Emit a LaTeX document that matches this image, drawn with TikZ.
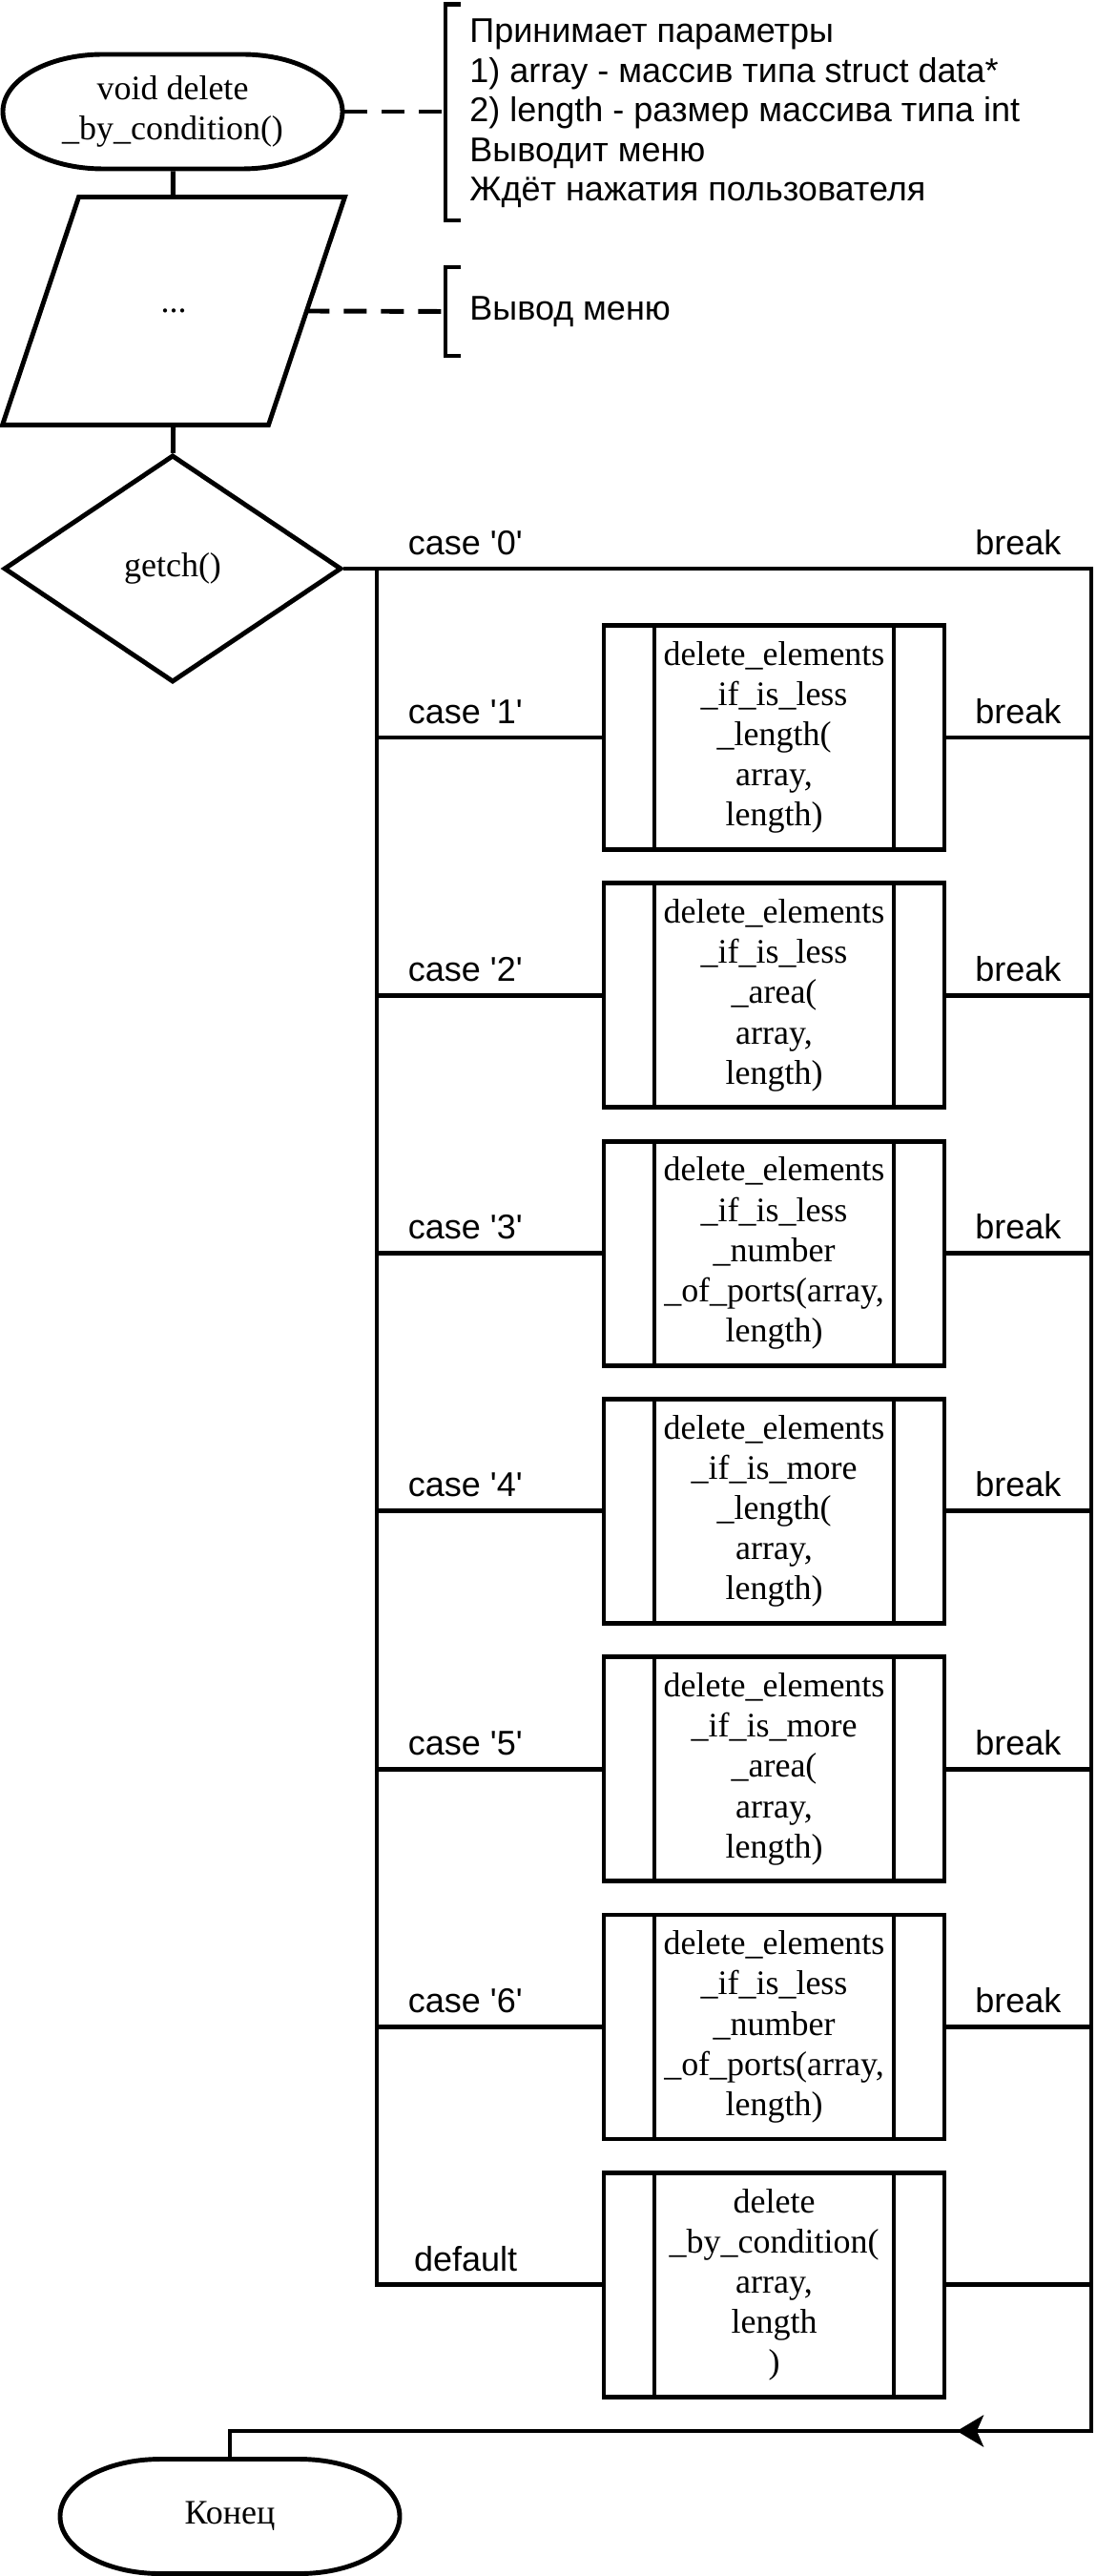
\documentclass[tikz,border=0pt]{standalone}
\usepackage{fontspec}
\setmainfont{Liberation Serif}
\setsansfont{Liberation Sans}
\usetikzlibrary{shapes.geometric,arrows.meta}

% outline of a terminator (flat top, elliptic ends)
\newcommand\termline[1]{%
  \draw (#1.center) ++(-0.73,0.6) -- ++(1.46,0)
    arc[start angle=90,delta angle=-180,x radius=1.05,y radius=0.6]
    -- ++(-1.46,0)
    arc[start angle=270,delta angle=-180,x radius=1.05,y radius=0.6] -- cycle;}

\begin{document}
\begin{tikzpicture}[
   x=1cm,y=1cm,
   line width=1.4pt,
   every node/.style={font=\fontsize{10.24}{12}\selectfont},
   term/.style={minimum width=3.56cm,minimum height=1.2cm,inner sep=0pt,align=center},
   io/.style={minimum width=3.54cm,minimum height=2.34cm,inner sep=0pt},
   choice/.style={draw,diamond,minimum width=3.54cm,minimum height=2.38cm,inner sep=0pt},
   sub/.style={draw,minimum width=3.57cm,minimum height=2.35cm,inner sep=0pt,align=center,
     path picture={\draw ([xshift=0.53cm]path picture bounding box.north west)
       -- ([xshift=0.53cm]path picture bounding box.south west)
       ([xshift=-0.53cm]path picture bounding box.north east)
       -- ([xshift=-0.53cm]path picture bounding box.south east);}},
   lbl/.style={font=\sffamily\fontsize{10.24}{11.8}\selectfont,anchor=base west,inner sep=0pt},
   note/.style={font=\sffamily\fontsize{10.24}{11.8}\selectfont,anchor=west,align=left,inner sep=0pt},
   comment/.style={dash pattern=on 0.24cm off 0.15cm}
 ]
  \useasboundingbox (0,0) rectangle (11.49,-27);

  \node[term] (start) at (1.81,-1.17) {void delete\\\_by\_condition()};
  \termline{start}
  \node[io] (menu) at (1.82,-3.26) {...};
  \draw ([xshift=0.8cm]menu.north west) -- (menu.north east)
    -- ([xshift=-0.8cm]menu.south east) -- (menu.south west) -- cycle;
  \node[choice] (sw) at (1.81,-5.96) {getch()};
  \draw (start) -- (menu);
  \draw (menu) -- (sw);

  % comments
  \coordinate (n1) at (4.67,-1.17);
  \coordinate (n2) at (4.67,-3.265);
  \draw (4.83,-0.045) -- (4.67,-0.045) -- (4.67,-2.31) -- (4.83,-2.31);
  \draw (4.83,-2.80) -- (4.67,-2.80) -- (4.67,-3.73) -- (4.83,-3.73);
  \draw[comment] (start.east) -- (n1);
  \draw[comment] ([xshift=-0.4cm]menu.east) -- (n2);
  \node[note] (n1txt) at (4.90,-1.19) {Принимает параметры\\1) array - массив типа struct data*\\2) length - размер массива типа int\\Выводит меню\\Ждёт нажатия пользователя};
  \node[note] (n2txt) at (4.90,-3.265) {Вывод меню};

  % switch
  \node[sub] (p1) at (8.115,-7.73) {delete\_elements\\\_if\_is\_less\\\_length(\\array,\\length)};
  \node[sub] (p2) at (8.115,-10.433) {delete\_elements\\\_if\_is\_less\\\_area(\\array,\\length)};
  \node[sub] (p3) at (8.115,-13.136) {delete\_elements\\\_if\_is\_less\\\_number\\\_of\_ports(array,\\length)};
  \node[sub] (p4) at (8.115,-15.839) {delete\_elements\\\_if\_is\_more\\\_length(\\array,\\length)};
  \node[sub] (p5) at (8.115,-18.542) {delete\_elements\\\_if\_is\_more\\\_area(\\array,\\length)};
  \node[sub] (p6) at (8.115,-21.245) {delete\_elements\\\_if\_is\_less\\\_number\\\_of\_ports(array,\\length)};
  \node[sub] (p7) at (8.115,-23.948) {delete\\\_by\_condition(\\array,\\length\\)};

  \node[term] (stop) at (2.41,-26.375) {Конец};
  \termline{stop}

  \coordinate (bl0) at (3.95,-5.96);
  \coordinate (br0) at (11.44,-5.96);
  \coordinate (bre) at (11.44,-25.48);
  \coordinate (arr) at (10.03,-25.48);
  \coordinate (endc) at (2.41,-25.48);

  \draw (sw.east) -- (bl0) -- (br0) -- (bre) -- (endc) -- (stop.north);
  \draw[-{Stealth[length=0.28cm,width=0.33cm,inset=0.07cm]}] (bre) -- (arr);
  \draw (bl0) |- (p7.west);
  \draw (p1.west -| bl0) -- (p1.west);
  \draw (p2.west -| bl0) -- (p2.west);
  \draw (p3.west -| bl0) -- (p3.west);
  \draw (p4.west -| bl0) -- (p4.west);
  \draw (p5.west -| bl0) -- (p5.west);
  \draw (p6.west -| bl0) -- (p6.west);
  \draw (p1.east) -- (p1.east -| br0);
  \draw (p2.east) -- (p2.east -| br0);
  \draw (p3.east) -- (p3.east -| br0);
  \draw (p4.east) -- (p4.east -| br0);
  \draw (p5.east) -- (p5.east -| br0);
  \draw (p6.east) -- (p6.east -| br0);
  \draw (p7.east) -- (p7.east -| br0);

  \node[lbl] (c0) at (4.255,-5.82) {case \textquotesingle0\textquotesingle};
  \node[lbl] (c1) at (4.255,-7.58) {case \textquotesingle1\textquotesingle};
  \node[lbl] (c2) at (4.255,-10.283) {case \textquotesingle2\textquotesingle};
  \node[lbl] (c3) at (4.255,-12.986) {case \textquotesingle3\textquotesingle};
  \node[lbl] (c4) at (4.255,-15.689) {case \textquotesingle4\textquotesingle};
  \node[lbl] (c5) at (4.255,-18.392) {case \textquotesingle5\textquotesingle};
  \node[lbl] (c6) at (4.255,-21.095) {case \textquotesingle6\textquotesingle};
  \node[lbl] (def) at (4.316,-23.806) {default};
  \node[lbl] (k0) at (10.20,-5.82) {break};
  \node[lbl] (k1) at (10.20,-7.58) {break};
  \node[lbl] (k2) at (10.20,-10.283) {break};
  \node[lbl] (k3) at (10.20,-12.986) {break};
  \node[lbl] (k4) at (10.20,-15.689) {break};
  \node[lbl] (k5) at (10.20,-18.392) {break};
  \node[lbl] (k6) at (10.20,-21.095) {break};
 \end{tikzpicture}
\end{document}
